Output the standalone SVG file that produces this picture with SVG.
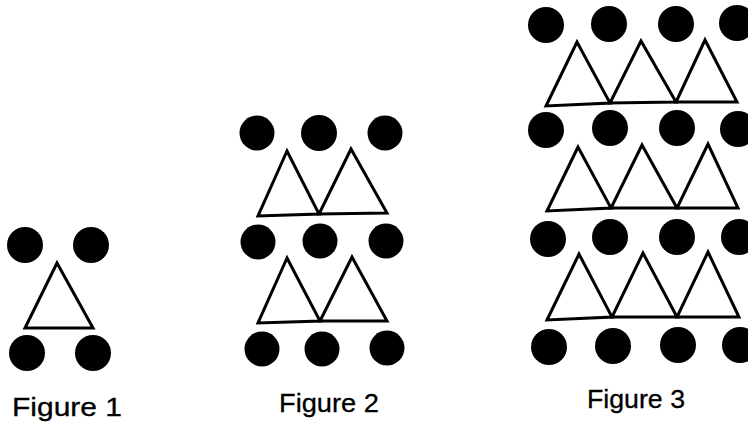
<svg xmlns="http://www.w3.org/2000/svg" width="748" height="425" viewBox="0 0 748 425">
<style>
.dot{fill:#000}
.tri{fill:#fff;stroke:#000;stroke-width:3;stroke-linejoin:miter}
.lbl{font-family:"Liberation Sans",Arial,sans-serif;font-size:25px;fill:#000;stroke:#000;stroke-width:0.3}
</style>
<rect width="748" height="425" fill="#fff"/>
<g id="figure1">
<circle class="dot" cx="25" cy="245" r="18"/>
<circle class="dot" cx="91" cy="245" r="18"/>
<polygon class="tri" points="57,263 25,328 93,328"/>
<circle class="dot" cx="27" cy="353" r="18"/>
<circle class="dot" cx="93" cy="353" r="18"/>
<text class="lbl" x="12" y="416" textLength="110" lengthAdjust="spacingAndGlyphs">Figure 1</text>
</g>
<g id="figure2">
<circle class="dot" cx="257" cy="133" r="17.5"/>
<circle class="dot" cx="319" cy="133" r="18"/>
<circle class="dot" cx="385" cy="133" r="17.5"/>
<polygon class="tri" points="287,151 258,216 319,214"/>
<polygon class="tri" points="351,149 319,214 387,213"/>
<circle class="dot" cx="258" cy="242" r="17.5"/>
<circle class="dot" cx="320" cy="241" r="17.5"/>
<circle class="dot" cx="386" cy="241" r="17.5"/>
<polygon class="tri" points="287,258 258,323 320,321"/>
<polygon class="tri" points="352,257 320,321 387,321"/>
<circle class="dot" cx="262" cy="349" r="17.5"/>
<circle class="dot" cx="322" cy="349" r="17.5"/>
<circle class="dot" cx="387" cy="348" r="17.5"/>
<text class="lbl" x="279" y="412" textLength="100" lengthAdjust="spacingAndGlyphs">Figure 2</text>
</g>
<g id="figure3">
<circle class="dot" cx="546" cy="25" r="18"/>
<circle class="dot" cx="609" cy="24" r="18"/>
<circle class="dot" cx="676" cy="24" r="18"/>
<circle class="dot" cx="737" cy="23" r="18"/>
<polygon class="tri" points="577,42 546,106 610,103"/>
<polygon class="tri" points="641,41 610,103 676,102"/>
<polygon class="tri" points="705,40 676,102 737,102"/>
<circle class="dot" cx="546" cy="130" r="18"/>
<circle class="dot" cx="610" cy="128" r="18"/>
<circle class="dot" cx="677" cy="128" r="18"/>
<circle class="dot" cx="738" cy="129" r="18"/>
<polygon class="tri" points="578,147 547,211 611,208"/>
<polygon class="tri" points="642,145 611,208 677,208"/>
<polygon class="tri" points="708,144 677,208 738,208"/>
<circle class="dot" cx="548" cy="239" r="18"/>
<circle class="dot" cx="610" cy="237" r="18"/>
<circle class="dot" cx="677" cy="237" r="18"/>
<circle class="dot" cx="739" cy="237" r="18"/>
<polygon class="tri" points="579,254 547,320 612,317"/>
<polygon class="tri" points="643,253 612,317 677,317"/>
<polygon class="tri" points="708,252 677,317 739,317"/>
<circle class="dot" cx="549" cy="347" r="18"/>
<circle class="dot" cx="613" cy="346" r="18"/>
<circle class="dot" cx="678" cy="345" r="18"/>
<circle class="dot" cx="740" cy="345" r="18"/>
<text class="lbl" x="587" y="408" textLength="98" lengthAdjust="spacingAndGlyphs">Figure 3</text>
</g>
</svg>
